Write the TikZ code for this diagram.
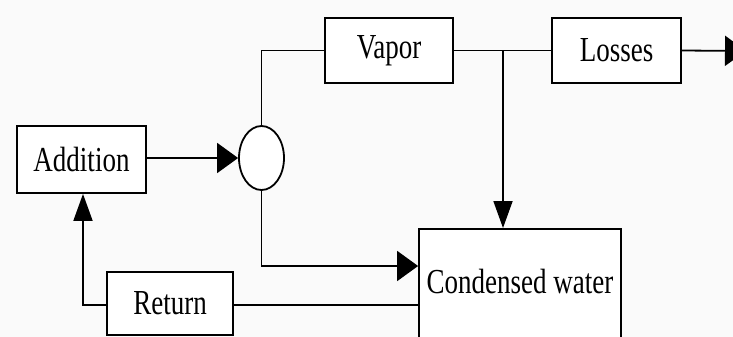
\documentclass[tikz,border=0pt]{standalone}
\usepackage{fontspec}
\setmainfont{Liberation Serif}
\usepackage{graphicx}
\usetikzlibrary{arrows.meta,shapes.geometric,calc}
\newcommand{\stx}[1]{\scalebox{1}[1.3]{#1}}
\tikzset{
  box/.style={draw, line width=1.8pt, fill=white, inner sep=0pt,
    font=\fontsize{27}{30}\selectfont},
  conn/.style={line width=1.8pt},
  harr/.style={conn, -{Triangle[length=21pt,width=30pt]}},
  varr/.style={conn, -{Triangle[length=27pt,width=19pt]}},
}
\begin{document}
\begin{tikzpicture}[x=1pt,y=-1pt]
\useasboundingbox (0,0) rectangle (733,337);
\fill[white!98!black] (0,0) rectangle (733,337);
\clip (0,0) rectangle (733,337);
% nodes
\node[box, minimum width=129pt, minimum height=67pt] (add) at (81.5,159.5) {\stx{Addition}};
\node[box, ellipse, minimum width=45pt, minimum height=64pt] (circ) at (261.5,158) {};
\node[box, minimum width=128pt, minimum height=65pt] (vap) at (389,50.5) {\stx{Vapor}};
\node[box, minimum width=129pt, minimum height=65pt] (los) at (616.5,50.5) {\stx{Losses}};
\node[box, minimum width=202pt, minimum height=140pt, anchor=north] (cw) at (520,228) {};
\node[font=\fontsize{27}{30}\selectfont, inner sep=0pt] (cwtext) at (520,281) {\stx{Condensed water}};
\node[box, minimum width=126pt, minimum height=63pt] (ret) at (170,303.5) {\stx{Return}};
\coordinate (out) at (746,51);
\coordinate (j) at (503,51);
% connectors
\draw[harr] (add.east |- 0,158) -- (circ.west);
\draw[conn] (circ.north) |- (vap.west);
\draw[conn] (vap.east) -- (los.west);
\draw[varr] (j) -- (j |- cw.north);
\draw[harr] (los.east) -- (out);
\draw[harr] (circ.south) |- (cw.west |- 0,266);
\draw[conn] (ret.east |- 0,305) -- (cw.west |- 0,305);
\draw[varr] (ret.west |- 0,305) -| (83,0 |- add.south);
\end{tikzpicture}
\end{document}
